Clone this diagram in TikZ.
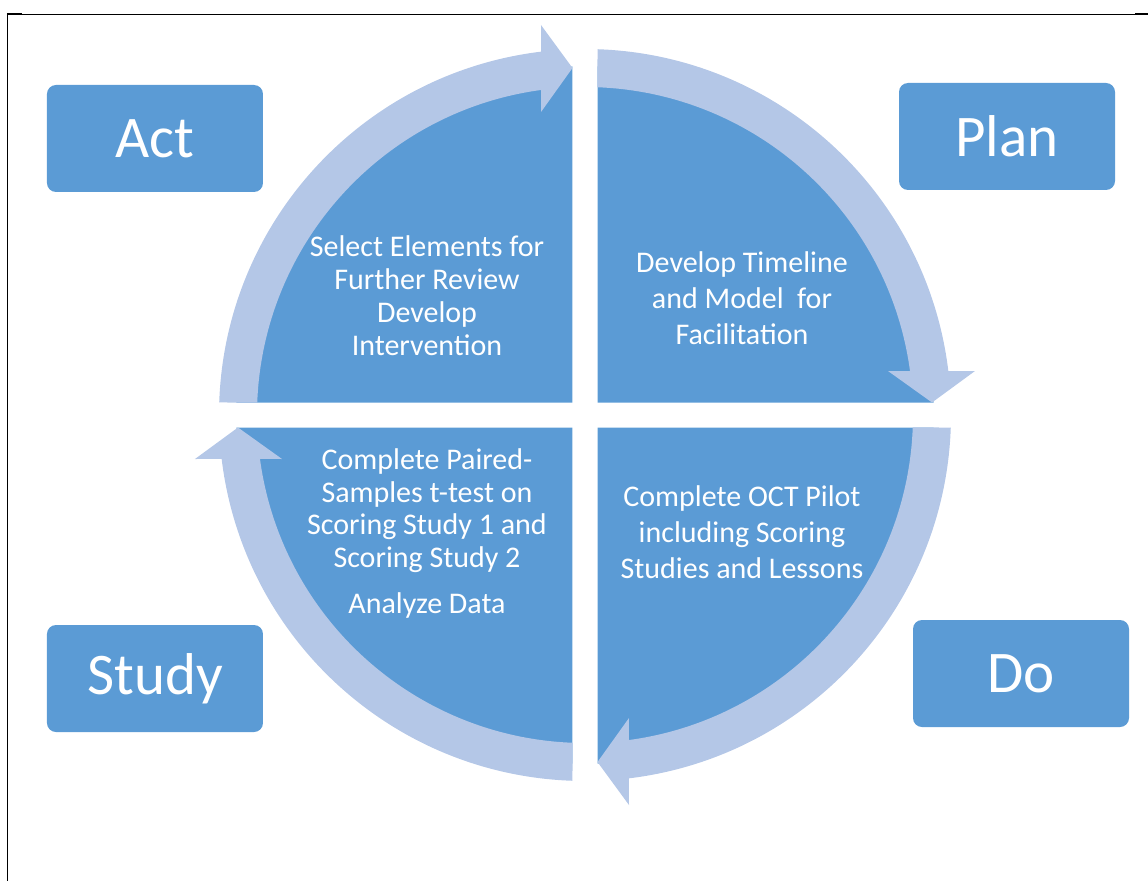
\documentclass[tikz,border=0pt]{standalone}
\usepackage{fontspec}
\setmainfont{Carlito}
\definecolor{darkblue}{HTML}{5B9BD5}
\definecolor{lightblue}{HTML}{B4C7E7}
\begin{document}
\begin{tikzpicture}[x=1pt,y=1pt,
  quadfill/.style={fill=darkblue},
  arrowband/.style={fill=lightblue},
  labelbox/.style={fill=darkblue, rounded corners=9pt, minimum width=216pt, minimum height=107pt, text=white, font=\fontsize{59}{70}\selectfont, inner sep=0pt},
  innertext/.style={text=white, font=\fontsize{30}{33}\selectfont, align=center, inner sep=0pt},
  widetext/.style={innertext, font=\fontsize{30}{36}\selectfont},
  borderline/.style={draw=black}]
\useasboundingbox (-585,-466) rectangle (563,415);
% frame
\coordinate (fa) at (-578,400.5);
\coordinate (fb) at (550,400.5);
\coordinate (fc) at (563,400.5);
\coordinate (fd) at (-563,400.5);
\coordinate (fe) at (-577.5,401.5);
\coordinate (ff) at (-577.5,-466);
\draw[borderline, line width=1pt] (fa) -- (fb);
\draw[borderline, line width=2pt] (fb) -- (fc);
\draw[borderline, line width=2pt] (fa) -- (fd);
\draw[borderline, line width=1.7pt] (fe) -- (ff);
% dark quadrants
\foreach \ang in {0,-90,-180,-270}{
  \begin{scope}[rotate=\ang]
    \fill[quadfill] (-12.5,12.5) -- ++(180:336) arc[start angle=180,end angle=90,radius=336] -- cycle;
  \end{scope}
}
% circular arrows
\foreach \ang in {0,-90,-180,-270}{
  \begin{scope}[rotate=\ang]
    \fill[arrowband] (178.04:366) arc[start angle=178.04,end angle=96.9,radius=366]
      -- (-44,390) -- (-12.5,347) -- (-44,303)
      -- (97.7:328) arc[start angle=97.7,end angle=177.82,radius=328] -- cycle;
  \end{scope}
}
% quadrant texts
\node[innertext] (tl) at (-158,119) {Select Elements for\\Further Review\\Develop\\Intervention};
\node[widetext] (tr) at (157,117) {Develop Timeline\\and Model\ \ for\\Facilitation};
\node[widetext] (br) at (157,-117) {Complete OCT Pilot\\including Scoring\\Studies and Lessons};
\node[innertext, font=\fontsize{30}{32.5}\selectfont] (bl) at (-158,-118.5) {Complete Paired-\\Samples t-test on\\Scoring Study 1 and\\Scoring Study 2\\[14pt]Analyze Data};
% label boxes
\node[labelbox] (act) at (-430,276.5) {Act};
\node[labelbox] (plan) at (422,278.5) {Plan};
\node[labelbox] (study) at (-430,-263.5) {Study};
\node[labelbox] (do) at (436,-258.5) {Do};
\end{tikzpicture}
\end{document}
